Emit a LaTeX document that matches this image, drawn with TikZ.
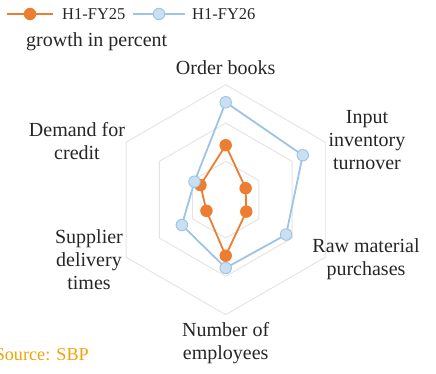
\documentclass[tikz,border=0pt]{standalone}
\usepackage{fontspec}
\setmainfont{Liberation Serif}
\usepackage{xcolor}
\usepackage{tikz}
\usetikzlibrary{positioning}
\usetikzlibrary{calc}
\definecolor{fyfive}{HTML}{ED7D31}
\definecolor{fysix}{HTML}{9DC3E6}
\definecolor{fysixfill}{HTML}{C9DFF2}
\definecolor{gridcol}{HTML}{E3E3E3}
\definecolor{srccol}{HTML}{F0A30A}
\definecolor{txtcol}{HTML}{262626}

\begin{document}
\begin{tikzpicture}[x=1pt,y=1pt,
  ring/.style={
    draw=gridcol,line width=0.9pt
  },
  ser/.style={
    draw=#1,line width=1.8pt,line join=round
  },
  dot/.style 2 args={
    circle,
    draw=#1,
    fill=#2,
    line width=0.9pt,
    minimum size=11.5pt,
    inner sep=0pt},
  lbl/.style={
    align=center,
    text=txtcol,
    font=\fontsize{20}{23}\selectfont},
  leg/.style={
    anchor=west,
    inner sep=0pt,
    text=txtcol,
    font=\fontsize{16.5}{20}\selectfont},
]

  \def\rscale{7.67}%
  \def\ringstep{38.33}%

  \useasboundingbox (-225.7,-173.3) rectangle (210.3,199.7);

    % Grid rings
  \foreach \r in {1,2,3} {
    \draw[ring] (90:\r*\ringstep) -- (30:\r*\ringstep) -- (-30:\r*\ringstep)
      -- (-90:\r*\ringstep) -- (-150:\r*\ringstep) -- (150:\r*\ringstep) -- cycle;
  }

    % Axis labels
  \node[lbl] (ax1) at (0,131.7) {Order books};
  \node[lbl] (ax2) at (141.3,59.7) {Input\\inventory\\turnover};
  \node[lbl] (ax3) at (140.3,-59.3) {Raw material\\purchases};
  \node[lbl] (ax4) at (0,-143.8) {Number of\\employees};
  \node[lbl] (ax5) at (-136.7,-60.3) {Supplier\\delivery\\times};
  \node[lbl] (ax6) at (-148.7,58.7) {Demand for\\credit};

    % H1-FY25
  \foreach \v [count=\i] in {7.1,3.0,3.1,7.3,2.9,3.8} {
    \coordinate (o\i) at ({90-60*(\i-1)}:\v*\rscale);
  }
  \draw[ser=fyfive] (o1) -- (o2) -- (o3) -- (o4) -- (o5) -- (o6) -- cycle;
  \foreach \i in {1,...,6} {
    \node[dot={fyfive}{fyfive}] (od\i) at (o\i) {};
  }

    % H1-FY26
  \foreach \v [count=\i] in {12.7,11.6,9.1,8.9,6.6,4.7} {
    \coordinate (b\i) at ({90-60*(\i-1)}:\v*\rscale);
  }
  \draw[ser=fysix] (b1) -- (b2) -- (b3) -- (b4) -- (b5) -- (b6) -- cycle;
  \foreach \i in {1,...,6} {
    \node[dot={fysix}{fysixfill}] (bd\i) at (b\i) {};
  }

    % Legend
  \coordinate (lgo_a) at (-218.7,185.7);
  \coordinate (lgo_b) at (-172.7,185.7);
  \draw[ser=fyfive] (lgo_a) -- (lgo_b);
  \node[dot={fyfive}{fyfive}] (lgo_d) at ($ (lgo_a)!0.5!(lgo_b) $) {};
  \node[leg] (lgo_t) at (-163.7,185.7) {H1-FY25};

  \coordinate (lgb_a) at (-92.7,185.7);
  \coordinate (lgb_b) at (-40.7,185.7);
  \draw[ser=fysix] (lgb_a) -- (lgb_b);
  \node[dot={fysix}{fysixfill}] (lgb_d) at ($ (lgb_a)!0.5!(lgb_b) $) {};
  \node[leg] (lgb_t) at (-33.7,185.7) {H1-FY26};

  \node[lbl,anchor=west,inner sep=0pt] (unit) at (-199.7,157.7) {growth in percent};

  \node[lbl,anchor=east,inner sep=0pt,text=srccol,
    font=\fontsize{18.2}{22}\selectfont] (src) at (-136.7,-155.3) {Source: SBP};

\end{tikzpicture}
\end{document}
